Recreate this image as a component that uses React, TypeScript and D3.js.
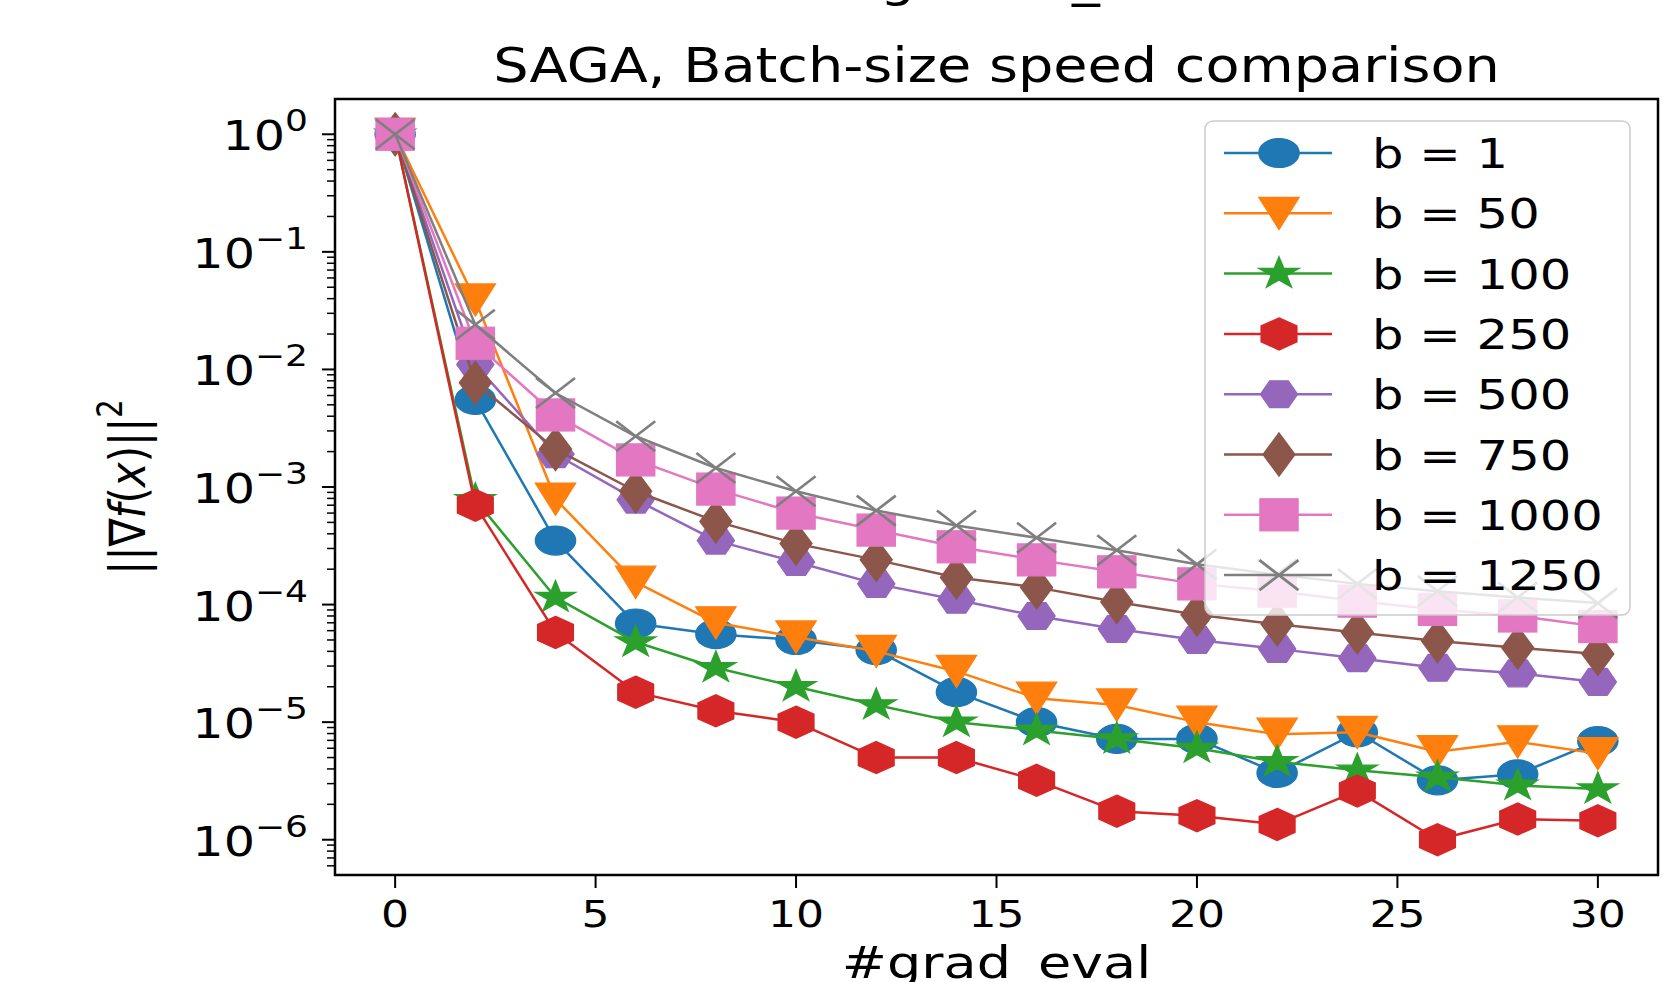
import React from 'react'
import * as d3 from 'd3'

const W = 1669
const H = 982
const margin = { left: 335, right: 11, top: 99, bottom: 107 }

const gradEvals = [0, 2, 4, 6, 8, 10, 12, 14, 16, 18, 20, 22, 24, 26, 28, 30]

const b1 = [1, 5.5e-3, 3.5e-4, 6.9e-5, 5.6e-5, 5.0e-5, 4.1e-5, 1.8e-5, 1.0e-5, 7.2e-6, 7.2e-6, 3.7e-6, 8.2e-6, 3.2e-6, 3.6e-6, 6.9e-6]
const b50 = [1, 0.039, 7.9e-4, 1.55e-4, 7.0e-5, 5.3e-5, 4.0e-5, 2.7e-5, 1.6e-5, 1.4e-5, 1.0e-5, 7.9e-6, 8.2e-6, 5.6e-6, 6.8e-6, 5.4e-6]
const b100 = [1, 7.8e-4, 1.15e-4, 4.8e-5, 2.9e-5, 2.0e-5, 1.4e-5, 1.0e-5, 8.5e-6, 7.2e-6, 6.0e-6, 4.6e-6, 3.9e-6, 3.4e-6, 2.9e-6, 2.7e-6]
const b250 = [1, 7.0e-4, 5.8e-5, 1.8e-5, 1.25e-5, 1.0e-5, 5.0e-6, 5.0e-6, 3.2e-6, 1.75e-6, 1.6e-6, 1.35e-6, 2.6e-6, 1.0e-6, 1.5e-6, 1.45e-6]
const b500 = [1, 1.1e-2, 1.9e-3, 7.8e-4, 3.5e-4, 2.3e-4, 1.5e-4, 1.1e-4, 8.0e-5, 6.2e-5, 5.0e-5, 4.2e-5, 3.5e-5, 2.9e-5, 2.6e-5, 2.2e-5]
const b750 = [1, 7.7e-3, 2.1e-3, 9.2e-4, 5.1e-4, 3.3e-4, 2.4e-4, 1.7e-4, 1.4e-4, 1.05e-4, 8.2e-5, 6.8e-5, 5.8e-5, 4.9e-5, 4.3e-5, 3.8e-5]
const b1000 = [1, 1.67e-2, 4.1e-3, 1.7e-3, 9.6e-4, 6.0e-4, 4.3e-4, 3.1e-4, 2.4e-4, 1.9e-4, 1.5e-4, 1.3e-4, 1.07e-4, 9.1e-5, 8.0e-5, 6.5e-5]
const b1250 = [1, 0.024, 6.3e-3, 2.7e-3, 1.45e-3, 9.2e-4, 6.3e-4, 4.7e-4, 3.7e-4, 2.9e-4, 2.2e-4, 1.8e-4, 1.5e-4, 1.3e-4, 1.15e-4, 1.03e-4]

const labels = ['b = 1', 'b = 50', 'b = 100', 'b = 250', 'b = 500', 'b = 750', 'b = 1000', 'b = 1250']
const colors = ['#1f77b4', '#ff7f0e', '#2ca02c', '#d62728', '#9467bd', '#8c564b', '#e377c2', '#7f7f7f']
const markers = ['o', 'v', '*', 'h', 'H', 'd', 's', 'x']
const seriesValues = [b1, b50, b100, b250, b500, b750, b1000, b1250]

const xTicks = [0, 5, 10, 15, 20, 25, 30]
const yDecades = [0, -1, -2, -3, -4, -5, -6]

const FONT = 'DejaVu Sans, sans-serif'
const SX = 1.16 // text in the picture is a little wider than tall

const poly = (pts: number[][]) => 'M' + pts.map(p => p.join(',')).join('L') + 'Z'

const star = () => {
  const pts: number[][] = []
  for (let i = 0; i < 10; i++) {
    const r = i % 2 === 0 ? 1 : 0.381966
    const a = -Math.PI / 2 + i * Math.PI / 5
    pts.push([r * Math.cos(a), r * Math.sin(a)])
  }
  return poly(pts)
}
const hexagon = (start: number) => {
  const pts: number[][] = []
  for (let i = 0; i < 6; i++) {
    const a = start + i * Math.PI / 3
    pts.push([Math.cos(a), Math.sin(a)])
  }
  return poly(pts)
}

const Marker = ({ kind, x, y, color }: { kind: string, x: number, y: number, color: string }) => {
  const t = (sx: number, sy: number) => `translate(${x},${y}) scale(${sx},${sy})`
  const common = { fill: color, stroke: color, strokeWidth: 0.08 }
  if (kind === 'o') return <circle cx={0} cy={0} r={1} transform={t(20, 14.5)} {...common} />
  if (kind === 'v') return <path d={poly([[-1, -1], [1, -1], [0, 1]])} transform={t(20, 16)} {...common} />
  if (kind === '*') return <path d={star()} transform={t(21, 16.5)} {...common} />
  if (kind === 'h') return <path d={hexagon(-Math.PI / 2)} transform={t(20.5, 16)} {...common} />
  if (kind === 'H') return <path d={hexagon(0)} transform={t(18.5, 15.5)} {...common} />
  if (kind === 'd') return <path d={poly([[0, -1], [0.6, 0], [0, 1], [-0.6, 0]])} transform={t(26, 21)} {...common} />
  if (kind === 's') return <rect x={-1} y={-1} width={2} height={2} transform={t(19, 16)} {...common} />
  return (
    <g transform={`translate(${x},${y})`} stroke={color} strokeWidth={2.7} fill="none">
      <line x1={-19.5} y1={-15} x2={19.5} y2={15} />
      <line x1={-19.5} y1={15} x2={19.5} y2={-15} />
    </g>
  )
}

export default function App() {
  const iw = W - margin.left - margin.right
  const ih = H - margin.top - margin.bottom
  const x = d3.scaleLinear().domain([-1.5, 31.5]).range([margin.left, margin.left + iw])
  const y = d3.scaleLog().domain([Math.pow(10, -6.3), Math.pow(10, 0.3)]).range([margin.top + ih, margin.top])
  const line = d3.line<number>().x((_, i) => x(gradEvals[i])).y(d => y(d))

  const minor: number[] = []
  for (let e = -7; e <= 0; e++) {
    for (let k = 2; k <= 9; k++) {
      const v = k * Math.pow(10, e)
      const [lo, hi] = y.domain()
      if (v > lo && v < hi) minor.push(v)
    }
  }

  const legX = 1205, legY = 121, legW = 425, legH = 494
  const rowH = 60.3

  return (
    <svg width={W} height={H} style={{ position: 'fixed', left: 0, top: 0, background: '#fff' }} fontFamily={FONT}>
      <defs>
        <clipPath id="plotClip">
          <rect x={margin.left} y={margin.top} width={iw} height={ih} />
        </clipPath>
      </defs>
      <rect width={W} height={H} fill="#fff" />

      {/* suptitle, mostly above the picture */}
      <text transform={`translate(880,-4) scale(${SX},1)`} fontSize={48} fill="#000">gisette_scale</text>

      <text transform={`translate(${margin.left + iw / 2},82) scale(${SX},1)`} textAnchor="middle" fontSize={48} fill="#000">
        SAGA, Batch-size speed comparison
      </text>

      {/* series */}
      <g clipPath="url(#plotClip)">
        {seriesValues.map((vals, si) => (
          <g key={labels[si]}>
            <path d={line(vals) || ''} fill="none" stroke={colors[si]} strokeWidth={2.5} strokeLinejoin="round" />
            {vals.map((v, i) => (
              <Marker key={i} kind={markers[si]} x={x(gradEvals[i])} y={y(v)} color={colors[si]} />
            ))}
          </g>
        ))}
      </g>

      {/* y ticks */}
      {minor.map(v => (
        <line key={'m' + v} x1={margin.left - 8} x2={margin.left} y1={y(v)} y2={y(v)} stroke="#000" strokeWidth={1.5} />
      ))}
      {yDecades.map(e => {
        const yy = y(Math.pow(10, e))
        return (
          <g key={'y' + e}>
            <line x1={margin.left - 13} x2={margin.left} y1={yy} y2={yy} stroke="#000" strokeWidth={2} />
            <text transform={`translate(308,${yy + 16}) scale(1.2,1)`} textAnchor="end" fontSize={41} fill="#000">
              10<tspan fontSize={30} dy={-19}>{e === 0 ? '0' : '\u2212' + Math.abs(e)}</tspan>
            </text>
          </g>
        )
      })}

      {/* x ticks */}
      {xTicks.map(t => (
        <g key={'x' + t}>
          <line x1={x(t)} x2={x(t)} y1={margin.top + ih} y2={margin.top + ih + 13} stroke="#000" strokeWidth={2} />
          <text transform={`translate(${x(t)},927) scale(${SX},1)`} textAnchor="middle" fontSize={38} fill="#000">{t}</text>
        </g>
      ))}

      {/* frame */}
      <rect x={margin.left} y={margin.top} width={iw} height={ih} fill="none" stroke="#000" strokeWidth={2.5} />

      {/* axis labels */}
      <text transform={`translate(${margin.left + iw / 2},978) scale(1.2,1)`} textAnchor="middle" fontSize={45} fill="#000">#grad_eval</text>
      <text transform={`translate(145,${margin.top + ih / 2}) scale(1.2,1) rotate(-90)`} textAnchor="middle" fontSize={42} fill="#000">
        ||∇<tspan fontStyle="italic">f</tspan>(<tspan fontStyle="italic">x</tspan>)||<tspan fontSize={29} dy={-19}>2</tspan>
      </text>

      {/* legend */}
      <rect x={legX} y={legY} width={legW} height={legH} rx={8} fill="#fff" fillOpacity={0.8} stroke="#cccccc" strokeWidth={1.5} />
      {labels.map((lab, i) => {
        const cy = legY + 32 + i * rowH
        return (
          <g key={'l' + lab}>
            <line x1={1224} x2={1332} y1={cy} y2={cy} stroke={colors[i]} strokeWidth={2.5} />
            <Marker kind={markers[i]} x={1279} y={cy} color={colors[i]} />
            <text transform={`translate(1372,${cy + 15}) scale(1.21,1)`} fontSize={41} fill="#000">{lab}</text>
          </g>
        )
      })}
    </svg>
  )
}
